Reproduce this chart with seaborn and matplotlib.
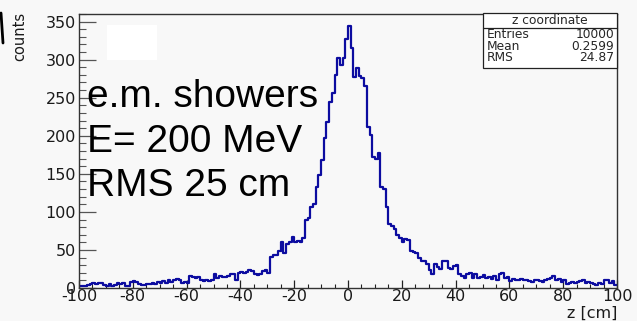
import numpy as np
import pandas as pd
import matplotlib
matplotlib.use("Agg")
import matplotlib.pyplot as plt
import seaborn as sns
from matplotlib.ticker import MultipleLocator
from matplotlib.patches import Rectangle
from matplotlib.lines import Line2D

# ---- data (1 cm bins, z from -100 to 100) ----
z_min, z_max, bin_width = -100, 100, 1
counts_left_tail = [3, 3, 3, 4, 5, 6, 5, 7, 6, 4, 3, 5, 3, 4, 6, 5, 6, 3, 3, 8,
                    9, 8, 5, 4, 4, 5, 5, 6, 5, 8, 7, 9, 7, 10, 8, 10, 12, 11, 7, 8,
                    6, 16, 15, 13, 14, 10, 9, 10, 9, 11, 19, 13, 16, 14, 15, 16, 19, 18, 10, 20,
                    21, 20, 21, 23, 22, 18, 17, 19, 22, 23, 20, 41, 43, 44, 48]        # z -100 .. -26
counts_core = [60, 46, 58, 60, 67, 60, 62, 60, 66, 89, 92, 107, 110, 133, 148,
               168, 197, 218, 245, 256, 280, 302, 293, 302, 327, 344,
               315, 277, 289, 278, 276, 266, 212, 201, 172, 170, 178, 133, 130, 106,
               84, 82, 77, 70, 66, 61, 64]                                              # z -25 .. 21
counts_right_tail = [63, 48, 47, 46, 40, 35, 35, 31, 24, 18, 31, 28, 25, 35, 36, 26, 25, 29,
                     30, 18, 16, 13, 19, 20, 13, 18, 13, 14, 17, 13, 15, 12, 16, 10, 19, 20, 13, 14,
                     9, 12, 10, 11, 12, 10, 11, 9, 8, 10, 11, 9, 8, 10, 12, 13, 16, 11, 12, 8,
                     10, 5, 7, 8, 6, 8, 9, 10, 7, 8, 6, 5, 4, 6, 5, 10, 10, 6, 9, 4]  # z 22 .. 99
counts = counts_left_tail + counts_core + counts_right_tail
x_ticks = [-100, -80, -60, -40, -20, 0, 20, 40, 60, 80, 100]
y_ticks = [0, 50, 100, 150, 200, 250, 300, 350]
stats_title = "z coordinate"
stats_rows = [("Entries", "10000"), ("Mean", "0.2599"), ("RMS", "24.87")]
annotation_lines = ["e.m. showers", "E= 200 MeV", "RMS 25 cm"]

centers = np.arange(z_min, z_max, bin_width) + bin_width / 2
df = pd.DataFrame({"z": centers, "counts": np.asarray(counts, dtype=float)})

sns.set_theme(style="white")
plt.rcParams["font.family"] = ["DejaVu Sans"]
plt.rcParams["axes.unicode_minus"] = False
small_font = ["DejaVu Sans"]
big_font = ["Liberation Sans", "DejaVu Sans"]

W, H = 637, 321
fig = plt.figure(figsize=(W / 100, H / 100), dpi=100, facecolor="#f8f8f8")
L, R, T, B = 79, 617, 14, 288
ax = fig.add_axes([L / W, 1 - B / H, (R - L) / W, (B - T) / H])
ax.set_facecolor("#f8f8f8")

sns.histplot(data=df, x="z", weights="counts", binwidth=bin_width, binrange=(z_min, z_max),
             element="step", fill=False, color="#0c0ca0", linewidth=1.6, ax=ax)

ax.set_xlim(-100, 100)
ax.set_ylim(0, 360)
ax.set_xticks(x_ticks)
ax.set_yticks(y_ticks)
ax.xaxis.set_minor_locator(MultipleLocator(5))
ax.yaxis.set_minor_locator(MultipleLocator(10))
ax.tick_params(axis="x", which="major", direction="in", length=6, width=0.9, color="#222222",
               labelsize=11.5, pad=1, bottom=True, top=False)
ax.tick_params(axis="x", which="minor", direction="in", length=3, width=0.8, color="#222222",
               bottom=True, top=False)
ax.tick_params(axis="y", which="major", direction="in", length=12, width=0.9, color="#555555",
               labelsize=11.5, pad=2, left=True, right=False)
ax.tick_params(axis="y", which="minor", direction="in", length=5, width=0.8, color="#555555",
               left=True, right=False)
for lab in ax.get_xticklabels() + ax.get_yticklabels():
    lab.set_color("#1a1a1a")
    lab.set_family(small_font)
for sp in ax.spines.values():
    sp.set_visible(True)
    sp.set_color("#333333")
    sp.set_linewidth(1.0)
ax.set_xlabel("")
ax.set_ylabel("")

# axis titles (ROOT-style, at the ends)
fig.text(R / W, 1 - 313 / H, "z [cm]", ha="right", va="center", fontsize=11.5,
         color="#1a1a1a", family=small_font)
fig.text(20 / W, 1 - 12 / H, "counts", ha="center", va="top", rotation=90, fontsize=10.5,
         color="#1a1a1a", family=small_font)

# stray glyph fragment at far left edge
fig.lines.append(Line2D([1 / W, 3 / W], [1 - 13 / H, 1 - 43 / H], transform=fig.transFigure,
                        color="black", linewidth=2.0))

# white patch in upper-left of pad
ax.add_patch(Rectangle(((107 - L) / (R - L), (B - 60) / (B - T)), 50 / (R - L), 35 / (B - T),
                       transform=ax.transAxes, facecolor="white", edgecolor="none", zorder=1))

# big annotation text
for i, line in enumerate(annotation_lines):
    fig.text(87 / W, 1 - (107 + 44.5 * i) / H, line, ha="left", va="baseline",
             fontsize=28, color="black", family=big_font)

# stats box
bx0, bx1, by0, by1 = 483, 617, 13, 68
fig.patches.append(Rectangle((bx0 / W, 1 - by1 / H), (bx1 - bx0) / W, (by1 - by0) / H,
                             transform=fig.transFigure, facecolor="white",
                             edgecolor="#222222", linewidth=0.9, zorder=5))
fig.lines.append(Line2D([bx0 / W, bx1 / W], [1 - 28 / H, 1 - 28 / H], transform=fig.transFigure,
                        color="#222222", linewidth=0.9, zorder=6))
fig.text((bx0 + bx1) / 2 / W, 1 - 20.5 / H, stats_title, ha="center", va="center",
         fontsize=8.8, zorder=7, family=small_font)
for i, (k, v) in enumerate(stats_rows):
    yy = 1 - (34.5 + 11.5 * i) / H
    fig.text((bx0 + 4) / W, yy, k, ha="left", va="center", fontsize=8.8, zorder=7, family=small_font)
    fig.text((bx1 - 3) / W, yy, v, ha="right", va="center", fontsize=8.8, zorder=7, family=small_font)

fig.savefig("out.png", dpi=100, facecolor=fig.get_facecolor())
